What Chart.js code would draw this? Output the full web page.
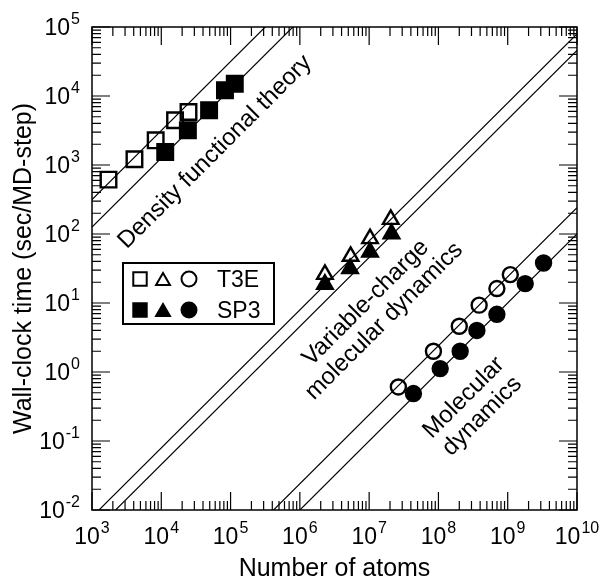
<!DOCTYPE html>
<html><head><meta charset="utf-8">
<script src="https://cdn.jsdelivr.net/npm/chart.js@4.4.1/dist/chart.umd.min.js"></script>
<style>html,body{margin:0;padding:0;background:#fff;}canvas{display:block;}</style>
</head><body>
<canvas id="c" width="600" height="579"></canvas>
<script>
// ---- data ----
const dftAtomsT3E = [1.73e3, 4.1e3, 8.3e3, 1.58e4, 2.47e4];
const dftTimeT3E  = [614, 1210, 2280, 4450, 5870];
const dftAtomsSP3 = [1.14e4, 2.42e4, 4.9e4, 8.3e4, 1.15e5];
const dftTimeSP3  = [1540, 3190, 6210, 12100, 15100];

const vcAtomsT3E = [2.3e6, 5.4e6, 1.03e7, 2.05e7];
const vcTimeT3E  = [26, 47.5, 85.7, 163];
const vcAtomsSP3 = [2.3e6, 5.3e6, 1.03e7, 2.1e7];
const vcTimeSP3  = [18.7, 31.5, 54.8, 101];

const mdAtomsT3E = [2.64e7, 8.47e7, 2.0e8, 3.87e8, 6.98e8, 1.09e9];
const mdTimeT3E  = [0.607, 2.0, 4.6, 9.3, 16.2, 25.8];
const mdAtomsSP3 = [4.36e7, 1.06e8, 2.06e8, 3.59e8, 6.98e8, 1.79e9, 3.29e9];
const mdTimeSP3  = [0.487, 1.12, 2.0, 4.0, 6.86, 19.1, 38];

// linear-scaling reference lines: time at N = 1e3 and N = 1e10
const lineAtoms   = [1e3, 1e10];
const fitDftT3E   = [316, 3.16e9];
const fitDftSP3   = [126, 1.26e9];
const fitVcT3E    = [7.94e-3, 7.94e4];
const fitVcSP3    = [4.57e-3, 4.57e4];
const fitMdT3E    = [2.4e-5, 240];
const fitMdSP3    = [1e-5, 100];

const xTickExps = [3, 4, 5, 6, 7, 8, 9, 10];
const yTickExps = [-2, -1, 0, 1, 2, 3, 4, 5];
const legendLabels = ['T3E', 'SP3'];
const xTitle = 'Number of atoms';
const yTitle = 'Wall-clock time (sec/MD-step)';
const noteDft = ['Density functional theory'];
const noteVc = ['Variable-charge', 'molecular dynamics'];
const noteMd = ['Molecular', 'dynamics'];

// ---- helpers ----
const FONT = '"Liberation Sans", Arial, Helvetica, sans-serif';
const pts = (xs, ys) => xs.map((x, i) => ({x: x, y: ys[i]}));

function markerSet(xs, ys, style, filled, r) {
  return {
    type: 'scatter', data: pts(xs, ys), showLine: false,
    pointStyle: style, pointRadius: r, pointHoverRadius: r,
    pointBorderWidth: 2.4, borderColor: '#000',
    pointBorderColor: '#000',
    pointBackgroundColor: filled ? '#000' : 'rgba(0,0,0,0)',
    order: 1
  };
}
function fitSet(ys) {
  return {
    type: 'scatter', data: pts(lineAtoms, ys), showLine: true,
    borderColor: '#000', borderWidth: 1.2, pointRadius: 0, pointHoverRadius: 0,
    fill: false, order: 2
  };
}

const axisPlugin = {
  id: 'axisDecor',
  afterDraw(chart) {
    const ctx = chart.ctx, a = chart.chartArea;
    const xs = chart.scales.x, ys = chart.scales.y;
    ctx.save();
    // frame
    ctx.strokeStyle = '#000';
    ctx.lineWidth = 1.5;
    ctx.strokeRect(a.left, a.top, a.right - a.left, a.bottom - a.top);
    // ticks (inward, on all four sides)
    ctx.lineWidth = 1.2;
    const MAJ = 18, MIN = 9;
    ctx.beginPath();
    xTickExps.forEach((e, i) => {
      for (let k = 1; k <= 9; k++) {
        if (k > 1 && i === xTickExps.length - 1) break;
        const px = xs.getPixelForValue(k * Math.pow(10, e));
        const L = k === 1 ? MAJ : MIN;
        ctx.moveTo(px, a.bottom); ctx.lineTo(px, a.bottom - L);
        ctx.moveTo(px, a.top); ctx.lineTo(px, a.top + L);
      }
    });
    yTickExps.forEach((e, i) => {
      for (let k = 1; k <= 9; k++) {
        if (k > 1 && i === yTickExps.length - 1) break;
        const py = ys.getPixelForValue(k * Math.pow(10, e));
        const L = k === 1 ? MAJ : MIN;
        ctx.moveTo(a.left, py); ctx.lineTo(a.left + L, py);
        ctx.moveTo(a.right, py); ctx.lineTo(a.right - L, py);
      }
    });
    ctx.stroke();

    // tick labels 10^n
    ctx.fillStyle = '#000';
    ctx.textBaseline = 'alphabetic';
    const base = '23px ' + FONT, sup = '16px ' + FONT;
    function pow(e, x, y, align) {
      ctx.font = base; const w1 = ctx.measureText('10').width;
      ctx.font = sup; const s = String(e);
      const w2 = ctx.measureText(s).width + 1;
      const tot = w1 + w2;
      let x0 = align === 'center' ? x - tot / 2 : x - tot;
      ctx.textAlign = 'left';
      ctx.font = base; ctx.fillText('10', x0, y);
      ctx.font = sup; ctx.fillText(s, x0 + w1 + 1, y - 11);
    }
    xTickExps.forEach(e => pow(e, xs.getPixelForValue(Math.pow(10, e)), 544, 'center'));
    yTickExps.forEach(e => pow(e, 80, ys.getPixelForValue(Math.pow(10, e)) + 8, 'right'));

    // axis titles
    ctx.font = '25px ' + FONT;
    ctx.textAlign = 'center';
    ctx.textBaseline = 'alphabetic';
    ctx.fillText(xTitle, (a.left + a.right) / 2, 576);
    ctx.save();
    ctx.translate(31, (a.top + a.bottom) / 2);
    ctx.rotate(-Math.PI / 2);
    ctx.fillText(yTitle, 0, 0);
    ctx.restore();

    // rotated annotations
    function note(lines, cx, cy, size, gap) {
      ctx.save();
      ctx.translate(cx, cy);
      ctx.rotate(-Math.PI / 4);
      ctx.font = size + 'px ' + FONT;
      ctx.textAlign = 'center';
      ctx.textBaseline = 'middle';
      const n = lines.length;
      lines.forEach((t, i) => ctx.fillText(t, 0, (i - (n - 1) / 2) * gap));
      ctx.restore();
    }
    note(noteDft, 215, 152, 24, 26);
    note(noteVc, 375, 312, 24, 26);
    note(noteMd, 473, 407, 24, 26);

    // legend box
    const lx = 123, ly = 263, lw = 151, lh = 61;
    ctx.fillStyle = '#fff';
    ctx.fillRect(lx, ly, lw, lh);
    ctx.strokeStyle = '#000';
    ctx.lineWidth = 2;
    ctx.strokeRect(lx, ly, lw, lh);
    const rows = [279, 310];
    const cols = [140, 163, 189];
    const styles = [['rect', 9.5], ['triangle', 8], ['circle', 7.5]];
    rows.forEach((ry, ri) => {
      styles.forEach((st, ci) => {
        ctx.fillStyle = ri === 1 ? '#000' : 'rgba(0,0,0,0)';
        ctx.strokeStyle = '#000';
        ctx.lineWidth = 2;
        const yy = st[0] === 'triangle' ? ry + 2 : ry;
        Chart.helpers.drawPoint(ctx, {pointStyle: st[0], radius: st[1], borderWidth: 2, rotation: 0}, cols[ci], yy);
      });
      ctx.fillStyle = '#000';
      ctx.font = '23px ' + FONT;
      ctx.textAlign = 'left';
      ctx.textBaseline = 'alphabetic';
      ctx.fillText(legendLabels[ri], 217, ry + 8);
    });
    ctx.restore();
  }
};

new Chart(document.getElementById('c'), {
  type: 'scatter',
  data: {
    datasets: [
      fitSet(fitDftT3E), fitSet(fitDftSP3), fitSet(fitVcT3E),
      fitSet(fitVcSP3), fitSet(fitMdT3E), fitSet(fitMdSP3),
      markerSet(dftAtomsT3E, dftTimeT3E, 'rect', false, 11),
      markerSet(dftAtomsSP3, dftTimeSP3, 'rect', true, 11),
      markerSet(vcAtomsT3E, vcTimeT3E, 'triangle', false, 9),
      markerSet(vcAtomsSP3, vcTimeSP3, 'triangle', true, 9),
      markerSet(mdAtomsT3E, mdTimeT3E, 'circle', false, 7.5),
      markerSet(mdAtomsSP3, mdTimeSP3, 'circle', true, 7.5)
    ]
  },
  options: {
    responsive: false,
    animation: false,
    devicePixelRatio: 1,
    layout: {padding: {left: 92, top: 27, right: 23, bottom: 69}},
    plugins: {legend: {display: false}, tooltip: {enabled: false}},
    events: [],
    scales: {
      x: {type: 'logarithmic', min: 1e3, max: 1e10, display: false},
      y: {type: 'logarithmic', min: 1e-2, max: 1e5, display: false}
    }
  },
  plugins: [axisPlugin]
});
</script>
</body></html>
